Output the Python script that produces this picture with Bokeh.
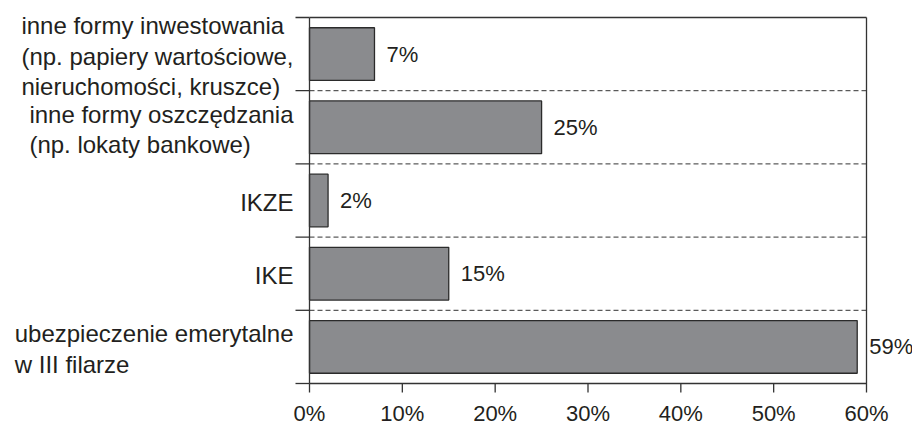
from bokeh.plotting import figure
from bokeh.models import Range1d
from bokeh.core.properties import value
from bokeh.embed import file_html
from bokeh.resources import INLINE

# ---- data (top to bottom) ----
categories = [
    "inne formy inwestowania\n(np. papiery wartościowe,\nnieruchomości, kruszce)",
    "inne formy oszczędzania\n(np. lokaty bankowe)",
    "IKZE",
    "IKE",
    "ubezpieczenie emerytalne\nw III filarze",
]
values = [7, 25, 2, 15, 59]
x_ticks = [0, 10, 20, 30, 40, 50, 60]
x_tick_labels = ["0%", "10%", "20%", "30%", "40%", "50%", "60%"]

# ---- layout / style constants ----
FONT = "Liberation Sans"
TXT = "#231f20"
LINE = "#333333"
CAT_SIZE = 24
VAL_SIZE = 22
TICK_SIZE = 22
W_CANVAS, H_CANVAS = 912, 427
FRAME_L, FRAME_R, FRAME_T, FRAME_B = 309, 866, 17, 383   # canvas px of x=0, x=max, y=top, y=0
TICK_OUT_Y, TICK_OUT_X = 14, 9

# Arial / Liberation Sans advance widths (per 1000 em) for label measurement
W = {" ": 278, "(": 333, ")": 333, ".": 278, ",": 278, "%": 889,
     "a": 556, "b": 556, "c": 500, "d": 556, "e": 556, "f": 278, "g": 556, "h": 556,
     "i": 222, "j": 222, "k": 500, "l": 222, "m": 833, "n": 556, "o": 556, "p": 556,
     "q": 556, "r": 333, "s": 500, "t": 278, "u": 556, "v": 500, "w": 722, "x": 500,
     "y": 500, "z": 500, "ś": 500, "ę": 556, "ó": 556, "ć": 500, "ł": 222, "ą": 556,
     "ż": 500, "ź": 500, "ń": 556, "I": 278, "K": 667, "Z": 611, "E": 667}


def text_width(s, size):
    return max(sum(W.get(ch, 556) for ch in line) for line in s.split("\n")) * size / 1000.0


n = len(categories)
ys = [n - i - 0.5 for i in range(n)]
x_max = x_ticks[-1]
px_x = (FRAME_R - FRAME_L) / x_max
px_y = (FRAME_B - FRAME_T) / n

p = figure(width=W_CANVAS, height=H_CANVAS, output_backend="svg", toolbar_location=None,
           x_axis_location=None, y_axis_location=None, min_border=0,
           x_range=Range1d(-FRAME_L / px_x, (W_CANVAS - FRAME_L) / px_x),
           y_range=Range1d(-(H_CANVAS - FRAME_B) / px_y, n + FRAME_T / px_y))
p.grid.visible = False
p.outline_line_color = None
p.background_fill_color = "white"
p.border_fill_color = "white"

# bars
p.hbar(y=ys, left=0, right=values, height=0.72,
       fill_color="#8a8b8e", line_color="#2b2b2b", line_width=1.3)

# dashed separators between categories
inner = list(range(1, n))
p.segment(x0=[0] * len(inner), x1=[x_max] * len(inner), y0=inner, y1=inner,
          line_color=LINE, line_width=1, line_dash="5 3")

# axis frame: category boundary ticks (incl. top & bottom lines), axis lines, x ticks
bounds = list(range(0, n + 1))
tick_left = -TICK_OUT_Y / px_x
x0 = [tick_left] * len(bounds)
x1 = [0] * len(bounds)
y0 = list(bounds)
y1 = list(bounds)
# top and bottom lines across the plot
x0 += [0, 0]; x1 += [x_max, x_max]; y0 += [n, 0]; y1 += [n, 0]
# left axis line and right border (down to the last x tick)
below = -TICK_OUT_X / px_y
x0 += [0, x_max]; x1 += [0, x_max]; y0 += [0, below]; y1 += [n, n]
# x ticks
for t in x_ticks[:-1]:
    x0.append(t); x1.append(t); y0.append(0); y1.append(below)
p.segment(x0=x0, x1=x1, y0=y0, y1=y1, line_color=LINE, line_width=1.3)

# x tick labels
p.text(x=x_ticks, y=[0] * len(x_ticks), text=x_tick_labels, y_offset=30,
       text_align="center", text_baseline="alphabetic",
       text_font=value(FONT), text_font_size=value(f"{TICK_SIZE}px"), text_color=TXT)

# value labels
p.text(x=values, y=ys, text=[f"{v}%" for v in values], x_offset=12,
       text_align="left", text_baseline="middle",
       text_font=value(FONT), text_font_size=value(f"{VAL_SIZE}px"), text_color=TXT)

# category labels: left-aligned blocks ending just left of the axis ticks
p.text(x=[0] * n, y=ys, text=categories,
       x_offset=[-(text_width(c, CAT_SIZE) + 16) for c in categories], y_offset=2,
       text_align="left", text_baseline="middle", text_line_height=1.12,
       text_font=value(FONT), text_font_size=value(f"{CAT_SIZE}px"), text_color=TXT)

open("out.html", "w").write(file_html(p, INLINE))
